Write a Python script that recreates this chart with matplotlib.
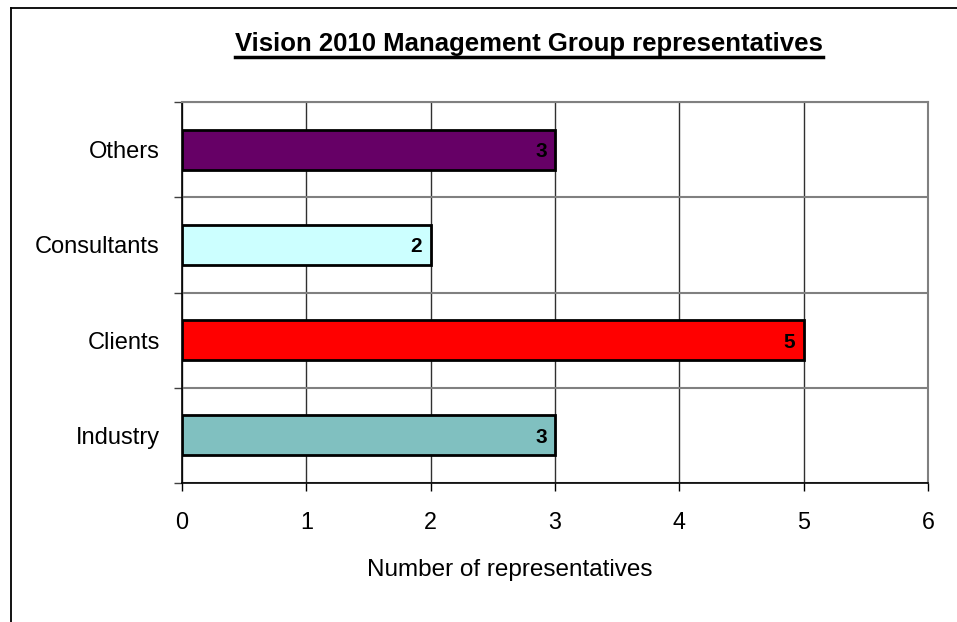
import matplotlib
matplotlib.use("Agg")
import matplotlib.pyplot as plt
from matplotlib.lines import Line2D

categories = ["Industry", "Clients", "Consultants", "Others"]
values = [3, 5, 2, 3]
colors = ["#80C0C0", "#FF0000", "#CCFFFF", "#660066"]
xticks = [0, 1, 2, 3, 4, 5, 6]
title = "Vision 2010 Management Group representatives"
xlabel = "Number of representatives"

plt.rcParams['font.family'] = ['Liberation Sans', 'DejaVu Sans']

W, H = 957, 622
fig = plt.figure(figsize=(W / 100, H / 100), dpi=100)
fig.patch.set_facecolor("white")

L, R, T, B = 182, 928, 102, 483
ax = fig.add_axes([L / W, 1 - B / H, (R - L) / W, (B - T) / H])

ypos = list(range(len(categories)))
ax.barh(ypos, values, height=0.42, color=colors, edgecolor="black", linewidth=2, zorder=3)

ax.set_xlim(0, 6)
ax.set_ylim(-0.5, len(categories) - 0.5)

# x axis
ax.set_xticks(xticks)
ax.set_xticklabels([str(t) for t in xticks], fontsize=16.8)
ax.tick_params(axis='x', direction='out', length=6, width=1, color='black', pad=14)
ax.xaxis.grid(True, color='#303030', linewidth=1.0, zorder=1)

# y axis: major ticks at boundaries, labels at centers
bounds = [i - 0.5 for i in range(len(categories) + 1)]
ax.set_yticks(bounds)
ax.set_yticklabels([])
ax.set_yticks(ypos, minor=True)
ax.set_yticklabels(categories, minor=True, fontsize=17)
ax.tick_params(axis='y', which='major', direction='out', length=6, width=1, color='#404040')
ax.tick_params(axis='y', which='minor', length=0, pad=16)
ax.yaxis.grid(True, which='major', color='#808080', linewidth=1.5, zorder=1)
ax.set_axisbelow(True)

for s in ['top', 'right']:
    ax.spines[s].set_color('#808080')
    ax.spines[s].set_linewidth(1.5)
for s in ['left', 'bottom']:
    ax.spines[s].set_color('black')
    ax.spines[s].set_linewidth(1.2)

# value labels
for y, v in zip(ypos, values):
    ax.annotate(str(v), xy=(v, y), xytext=(-6, 0), textcoords='offset points',
                ha='right', va='center_baseline', fontsize=15, fontweight='bold', zorder=4)

# title (bold, underlined)
t = fig.text(529 / W, 1 - 44 / H, title, ha='center', va='center',
             fontsize=18.5, fontweight='bold')
fig.canvas.draw()
bb = t.get_window_extent()
fig.add_artist(Line2D([bb.x0 / W, bb.x1 / W], [1 - 57 / H, 1 - 57 / H],
                      transform=fig.transFigure, color='black', linewidth=2.5))

# x axis title
fig.text(510 / W, 1 - 570 / H, xlabel, ha='center', va='center', fontsize=17.5)

# outer border (left and top)
fig.add_artist(Line2D([10.5 / W, 10.5 / W], [0, 1 - 7.5 / H], transform=fig.transFigure,
                      color='black', linewidth=1.3))
fig.add_artist(Line2D([10.5 / W, 1], [1 - 7.5 / H, 1 - 7.5 / H], transform=fig.transFigure,
                      color='black', linewidth=1.3))

fig.savefig("out.png", dpi=100)
